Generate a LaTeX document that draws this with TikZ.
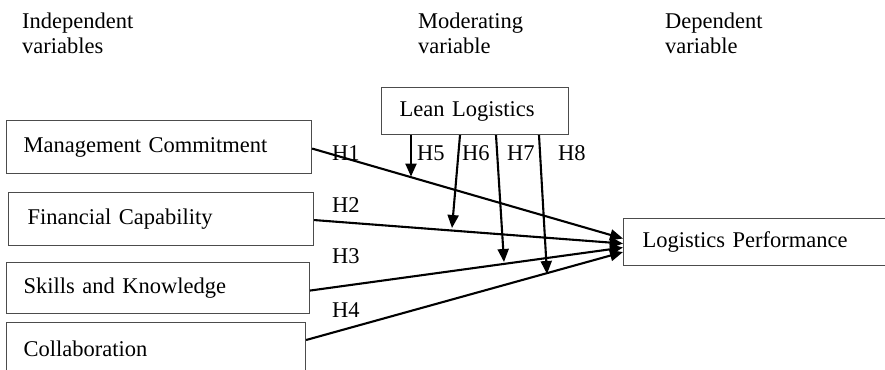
\documentclass[tikz,border=0pt]{standalone}
\usepackage{fontspec}
\setmainfont{Liberation Serif}
\usetikzlibrary{arrows.meta}
\tikzset{
  every node/.style={font=\fontsize{22.5}{25}\selectfont, text=black},
  varbox/.style={draw=black!70, line width=1.1pt, anchor=north west, align=left,
    inner ysep=0pt, minimum height=#1},
  head/.style={anchor=north west, align=left, inner sep=0pt},
  hlab/.style={anchor=base west, inner sep=0pt},
  link/.style={line width=2.1pt, black, -{Triangle[length=13pt,width=11pt]}},
}
\begin{document}
\begin{tikzpicture}[x=1pt,y=-1pt]
\clip (0,0) rectangle (885,369);
\fill[white] (0,0) rectangle (885,369);
% headers
\node[head] (hind) at (22,12.6) {Independent\\variables};
\node[head] (hmod) at (418,12.6) {Moderating\\variable};
\node[head] (hdep) at (665,12.6) {Dependent\\variable};
% boxes
\node[varbox=53pt, inner xsep=17pt, text width=271pt] (mc) at (6,120) {Management Commitment};
\node[varbox=53pt, inner xsep=19pt, text width=267pt] (fc) at (8,192) {Financial Capability};
\node[varbox=51pt, inner xsep=17pt, text width=269pt] (sk) at (6,262) {Skills and Knowledge};
\node[varbox=53pt, inner xsep=17pt, text width=265pt] (co) at (6,322) {Collaboration};
\node[varbox=47pt, inner xsep=18pt, text width=151pt] (ll) at (381,87) {Lean Logistics};
\node[varbox=47pt, inner xsep=19pt, text width=262pt] (lp) at (623,218) {Logistics Performance};
% main paths
\draw[link] ([yshift=-1.5pt]mc.east) -- ([yshift=3.5pt]lp.west);
\draw[link] ([yshift=-1pt]fc.east) -- ([yshift=-1.5pt]lp.west);
\draw[link] ([yshift=-2.5pt]sk.east) -- ([yshift=-5.5pt]lp.west);
\draw[link] ([yshift=-18pt]co.north east) -- ([yshift=-10pt]lp.west);
% moderation
\coordinate (m1) at (411,176.6);
\coordinate (m2) at (452,228);
\coordinate (m3) at (504,262);
\coordinate (m4) at (547,274);
\draw[link] (ll.south -| 411,0) -- (m1);
\draw[link] (ll.south -| 460,0) -- (m2);
\draw[link] (ll.south -| 496,0) -- (m3);
\draw[link] (ll.south -| 539,0) -- (m4);
% labels
\node[hlab] (h1) at (332,160) {H1};
\node[hlab] (h5) at (417,160) {H5};
\node[hlab] (h6) at (462,160) {H6};
\node[hlab] (h7) at (507,160) {H7};
\node[hlab] (h8) at (558,160) {H8};
\node[hlab] (h2) at (332,212) {H2};
\node[hlab] (h3) at (332,263) {H3};
\node[hlab] (h4) at (332,317) {H4};
\end{tikzpicture}
\end{document}
